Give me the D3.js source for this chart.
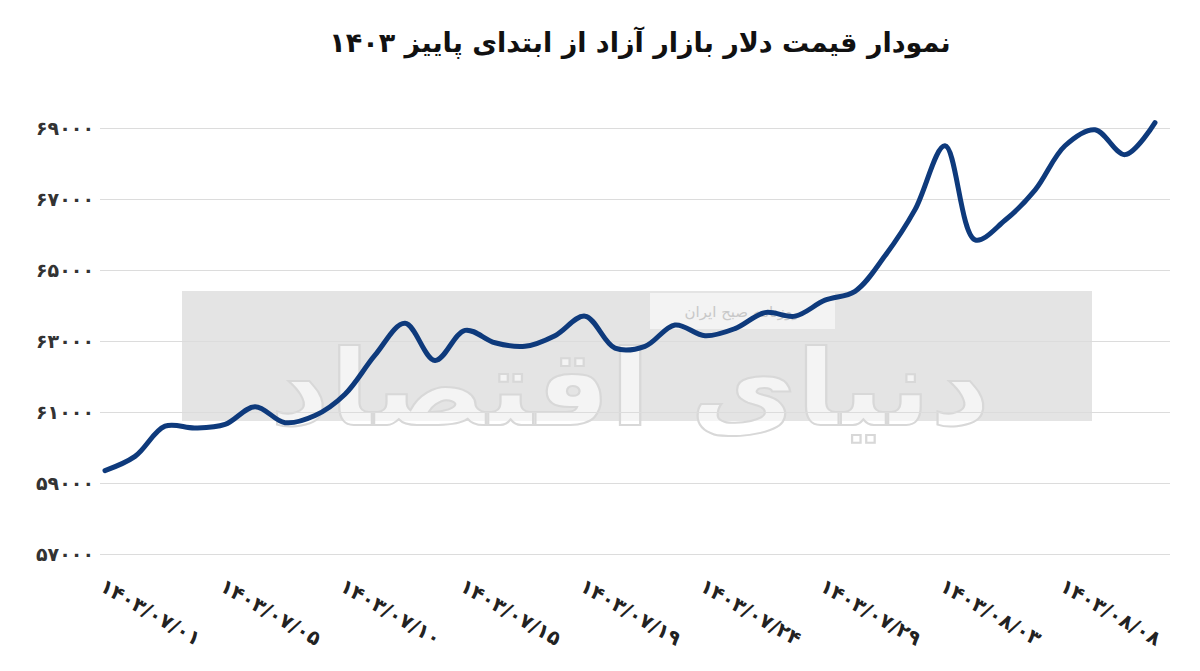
<html>
<head>
<meta charset="utf-8">
<script src="https://d3js.org/d3.v7.min.js"></script>
<style>
  body { margin: 0; background: #fff; font-family: "DejaVu Sans", sans-serif; }
</style>
</head>
<body>
<svg id="chart" width="1200" height="671"></svg>
<script>
// data
const dates = [
  "1403/07/01","1403/07/02","1403/07/03","1403/07/04","1403/07/05","1403/07/07","1403/07/08","1403/07/09",
  "1403/07/10","1403/07/11","1403/07/12","1403/07/14","1403/07/15","1403/07/16","1403/07/17","1403/07/18",
  "1403/07/19","1403/07/21","1403/07/22","1403/07/23","1403/07/24","1403/07/25","1403/07/26","1403/07/28",
  "1403/07/29","1403/07/30","1403/08/01","1403/08/02","1403/08/03","1403/08/04","1403/08/05","1403/08/06",
  "1403/08/08","1403/08/09","1403/08/10","1403/08/11"
];
const prices = [
  59350, 59750, 60600, 60550, 60650, 61150, 60700, 60900,
  61500, 62600, 63500, 62450, 63300, 62950, 62850, 63150,
  63700, 62800, 62850, 63450, 63150, 63350, 63800, 63700,
  64150, 64400, 65400, 66700, 68500, 65850, 66400, 67250,
  68500, 68950, 68250, 69150
];
const yTicks = [57000, 59000, 61000, 63000, 65000, 67000, 69000];
const title = "نمودار قیمت دلار بازار آزاد از ابتدای پاییز  ۱۴۰۳";

const fa = s => String(s).replace(/[0-9]/g, d => "۰۱۲۳۴۵۶۷۸۹"[d]);

const svg = d3.select("#chart");
const x = d3.scalePoint().domain(dates).range([105, 1155]);
const y = d3.scaleLinear().domain([57000, 69000]).range([554, 128]);

// watermark
svg.append("rect").attr("x", 182).attr("y", 291).attr("width", 910).attr("height", 130)
  .attr("fill", "#e4e4e4");
svg.append("rect").attr("x", 650).attr("y", 293).attr("width", 185).attr("height", 36)
  .attr("fill", "#f3f3f3");
svg.append("text").attr("x", 742).attr("y", 317).attr("text-anchor", "middle")
  .attr("font-size", 15).attr("fill", "#c8c8c8")
  .text("روزنامه صبح ایران");
svg.append("text").attr("x", 630).attr("y", 425).attr("text-anchor", "middle")
  .attr("font-size", 105).attr("font-weight", "bold").attr("fill", "#fff").attr("fill-opacity", 0.6)
  .attr("stroke", "#d8d8d8").attr("stroke-width", 2)
  .attr("textLength", 720).attr("lengthAdjust", "spacingAndGlyphs")
  .text("دنیای اقتصاد");

svg.append("text").attr("x", 640).attr("y", 52).attr("text-anchor", "middle")
  .attr("font-size", 27).attr("font-weight", "bold").attr("fill", "#111")
  .attr("direction", "rtl").text(title);

// grid + y labels
const yAxis = svg.append("g").attr("transform", "translate(100,0)")
  .call(d3.axisRight(y).tickValues(yTicks).tickSize(1070).tickFormat(d => fa(d)));
yAxis.select(".domain").remove();
yAxis.selectAll(".tick line").attr("stroke", "#dcdcdc");
yAxis.selectAll(".tick text").attr("x", -6).attr("text-anchor", "end")
  .attr("font-size", 19).attr("font-weight", "bold").attr("fill", "#333")
  .attr("font-family", "DejaVu Sans");

// x labels
const xAxis = svg.append("g").attr("transform", "translate(0,578)")
  .call(d3.axisBottom(x).tickValues(dates.filter((d, i) => i % 4 === 0)).tickSize(0).tickFormat(d => fa(d)));
xAxis.select(".domain").remove();
xAxis.selectAll(".tick text").attr("y", 0).attr("dy", "0.7em")
  .attr("text-anchor", "start").attr("transform", "rotate(30)")
  .attr("font-size", 20).attr("font-weight", "bold").attr("fill", "#222")
  .attr("font-family", "DejaVu Sans");

// line
const line = d3.line().x((d, i) => x(dates[i])).y(d => y(d)).curve(d3.curveCatmullRom.alpha(0.5));
svg.append("path").datum(prices).attr("d", line).attr("fill", "none")
  .attr("stroke", "#0e3a7c").attr("stroke-width", 5).attr("stroke-linecap", "round");
</script>
</body>
</html>
